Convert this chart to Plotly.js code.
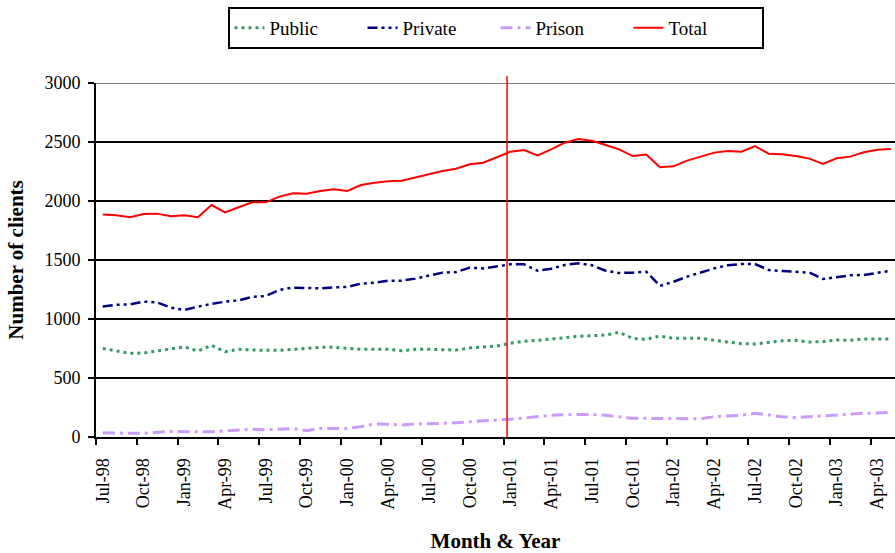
<!DOCTYPE html>
<html>
<head>
<meta charset="utf-8">
<script src="https://cdn.plot.ly/plotly-3.0.1.min.js"></script>
<style>
  html, body { margin: 0; padding: 0; background: #fff; }
  #chart { width: 895px; height: 553px; }
</style>
</head>
<body>
<div id="chart"></div>
<script>
const months = [
  "Jul-98","Aug-98","Sep-98","Oct-98","Nov-98","Dec-98",
  "Jan-99","Feb-99","Mar-99","Apr-99","May-99","Jun-99","Jul-99","Aug-99","Sep-99","Oct-99","Nov-99","Dec-99",
  "Jan-00","Feb-00","Mar-00","Apr-00","May-00","Jun-00","Jul-00","Aug-00","Sep-00","Oct-00","Nov-00","Dec-00",
  "Jan-01","Feb-01","Mar-01","Apr-01","May-01","Jun-01","Jul-01","Aug-01","Sep-01","Oct-01","Nov-01","Dec-01",
  "Jan-02","Feb-02","Mar-02","Apr-02","May-02","Jun-02","Jul-02","Aug-02","Sep-02","Oct-02","Nov-02","Dec-02",
  "Jan-03","Feb-03","Mar-03","Apr-03","May-03"
];

const publicClients = [
  751, 732, 709, 712, 729, 749, 763, 729, 777, 723, 743, 737, 734, 734, 743, 751, 760, 760, 751, 743,
  743, 743, 732, 743, 743, 743, 737, 754, 765, 771, 794, 811, 819, 831, 845, 853, 859, 864, 887, 836,
  828, 856, 836, 833, 836, 819, 802, 791, 788, 805, 816, 819, 805, 808, 822, 819, 831, 831, 831
];
const privateClients = [
  1105, 1121, 1124, 1147, 1141, 1096, 1076, 1105, 1127, 1147, 1158, 1187, 1195, 1246, 1266, 1263, 1260, 1269, 1271, 1300,
  1308, 1325, 1325, 1342, 1370, 1393, 1398, 1435, 1429, 1449, 1463, 1463, 1409, 1426, 1458, 1472, 1455, 1409, 1390, 1393,
  1401, 1280, 1316, 1359, 1396, 1429, 1455, 1466, 1466, 1415, 1407, 1398, 1393, 1339, 1353, 1370, 1373, 1393, 1409
];
const prisonClients = [
  37, 31, 31, 31, 37, 48, 45, 42, 45, 51, 56, 65, 62, 68, 71, 54, 73, 73, 73, 88,
  110, 107, 102, 110, 110, 116, 121, 130, 138, 144, 150, 161, 175, 184, 189, 192, 192, 184, 172, 158,
  158, 158, 155, 153, 155, 172, 178, 184, 201, 184, 172, 164, 172, 178, 186, 192, 201, 203, 209
];
const totalClients = [
  1885, 1880, 1862, 1890, 1893, 1870, 1879, 1862, 1966, 1904, 1947, 1989, 1989, 2037, 2065, 2062, 2085, 2099, 2085, 2135,
  2155, 2167, 2172, 2201, 2229, 2254, 2274, 2311, 2325, 2370, 2418, 2432, 2387, 2438, 2494, 2526, 2511, 2475, 2438, 2381,
  2393, 2286, 2294, 2342, 2379, 2410, 2424, 2418, 2466, 2401, 2396, 2381, 2359, 2314, 2362, 2376, 2413, 2435, 2441
];

// the red marker line sits just before Jan-01
const markerMonth = "Jan-01";

const colors = { pub: "#339966", priv: "#000080", prison: "#cc99ff", total: "#ff0000" };
const serif = "Liberation Serif";

const xIdx = months.map((m, i) => i);
const tickIdx = xIdx.filter(i => /^(Jul|Oct|Jan|Apr)/.test(months[i]));

const traces = [
  { x: xIdx, y: publicClients, name: "Public", type: "scatter", mode: "lines",
    line: { color: colors.pub, width: 3, dash: "3px,4px" } },
  { x: xIdx, y: privateClients, name: "Private", type: "scatter", mode: "lines",
    line: { color: colors.priv, width: 2.5, dash: "10px,4px,3px,4px,3px,4px" } },
  { x: xIdx, y: prisonClients, name: "Prison", type: "scatter", mode: "lines",
    line: { color: colors.prison, width: 3, dash: "12px,5px,3px,5px" } },
  { x: xIdx, y: totalClients, name: "Total", type: "scatter", mode: "lines",
    line: { color: colors.total, width: 2 } }
];

const markerX = months.indexOf(markerMonth) - 0.25;

const layout = {
  width: 895, height: 553,
  margin: { l: 96, r: 0, t: 83, b: 116 },
  paper_bgcolor: "#ffffff", plot_bgcolor: "#ffffff",
  font: { family: serif, color: "#000", size: 18 },
  showlegend: true,
  legend: {
    orientation: "h", x: 0.5, xanchor: "center", y: 1.215, yanchor: "top",
    bordercolor: "#000", borderwidth: 2, bgcolor: "#fff",
    font: { family: serif, size: 19, color: "#000" },
    entrywidth: 88, entrywidthmode: "pixels", itemclick: false
  },
  xaxis: {
    range: [-0.5, 58.3], zeroline: false, showgrid: false,
    showline: true, linecolor: "#000", linewidth: 2,
    tickmode: "array", tickvals: tickIdx, ticktext: tickIdx.map(i => months[i]),
    tickangle: -90, ticks: "", ticklabelstandoff: 12,
    tickfont: { family: serif, size: 18, color: "#000" },
    minor: { tick0: -0.5, dtick: 3, ticks: "outside", ticklen: 6, tickwidth: 2, tickcolor: "#000", showgrid: false },
    title: { text: "<b>Month & Year</b>", font: { family: serif, size: 21, color: "#000" }, standoff: 26 },
    automargin: false
  },
  yaxis: {
    range: [0, 3000], dtick: 500, zeroline: false,
    showline: true, linecolor: "#000", linewidth: 2,
    showgrid: true, gridcolor: "#000", gridwidth: 1.5,
    ticks: "outside", ticklen: 6, tickwidth: 2, tickcolor: "#000", ticklabelstandoff: 4,
    tickfont: { family: serif, size: 18, color: "#000" },
    title: { text: "<b>Number of clients</b>", font: { family: serif, size: 21, color: "#000" }, standoff: 15 },
    automargin: false
  },
  shapes: [
    { type: "line", xref: "paper", yref: "y", x0: 0, x1: 1, y0: 3000, y1: 3000,
      line: { color: "#808080", width: 2 }, layer: "above" },
    { type: "line", xref: "x", yref: "paper", x0: markerX, x1: markerX, y0: 0, y1: 1.02,
      line: { color: colors.total, width: 1.5 }, layer: "above" }
  ]
};

Plotly.newPlot("chart", traces, layout, { displayModeBar: false, staticPlot: true });
</script>
</body>
</html>
